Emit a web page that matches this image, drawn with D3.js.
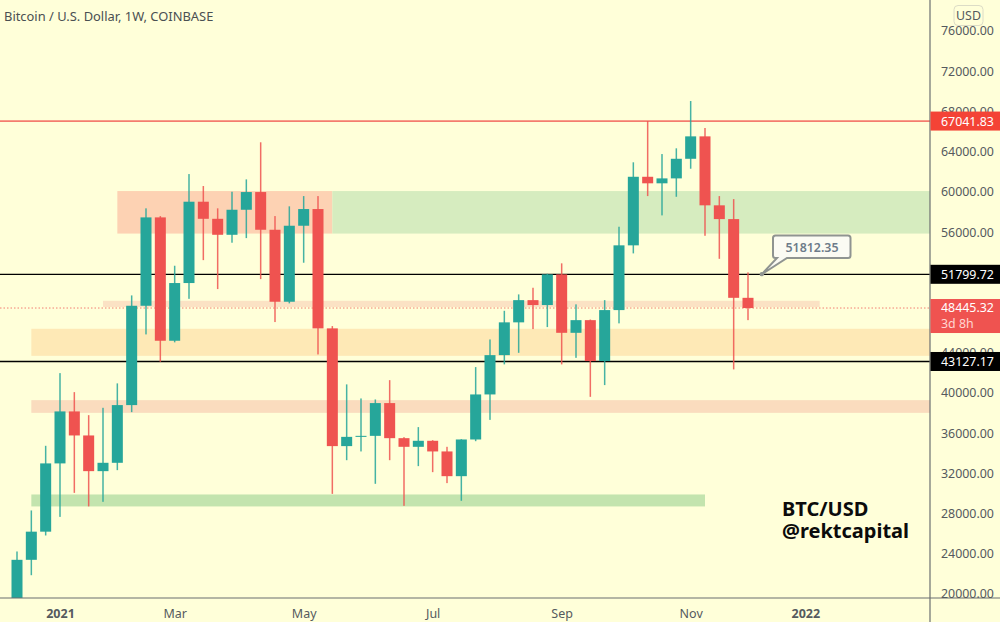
<!DOCTYPE html>
<html>
<head>
<meta charset="utf-8">
<script src="https://cdn.jsdelivr.net/npm/d3@7/dist/d3.min.js"></script>
<style>
  html, body { margin: 0; padding: 0; background: #ffffd9; overflow: hidden; }
  text { font-family: "Noto Sans", sans-serif; }
</style>
</head>
<body>
<svg id="chart" width="1000" height="622"></svg>
<script>
var firstWeek = new Date(Date.UTC(2020, 11, 14));

var opens  = [19300,23400,26200,32990,38160,35770,32220,33050,38790,48670,57460,45190,50930,59020,57320,55730,58220,59980,56230,49070,56630,58290,46420,34710,35630,35730,38990,35500,34640,35240,34180,31720,35370,39850,43760,47020,49230,48740,51790,45980,47240,43170,48240,54680,61500,60850,61340,63290,65520,58660,57290,49460];
var highs  = [24230,28310,34740,41970,40080,37790,38520,40950,49700,58360,57590,52650,61770,60580,58360,60010,61240,64930,57590,58560,59580,59580,46650,40850,39450,39350,41270,35600,36600,35300,34640,35400,42570,45320,48170,49800,50460,51850,52890,48810,47300,49230,56530,62940,67045,63760,64330,69035,66350,59580,59280,51990];
var lows   = [18800,21870,25820,27670,30060,28710,29170,32320,38090,45820,43100,45030,49360,53210,50330,54940,55400,51320,47050,48910,52950,43830,29960,33310,34180,30960,33310,28770,32720,32120,31030,29270,35200,37320,42840,43990,46350,46550,42840,43490,39610,40780,46920,53880,59580,57660,59510,62300,55630,53340,42340,47240];
var closes = [23400,26200,32990,38160,35770,32220,33050,38790,48670,57460,45190,50930,59020,57320,55730,58220,59980,56230,49070,56630,58290,46420,34710,35630,35730,38990,35500,34640,35240,34180,31720,35370,39850,43760,47020,49230,48740,51790,45980,47240,43170,48240,54680,61500,60850,61340,63290,65520,58660,57290,49460,48445.32];

var priceTicks = [76000,72000,68000,64000,60000,56000,44000,40000,36000,32000,28000,24000,20000];
var monthTicks = [3,11,20,29,38,47,55];
var monthLabels = ['2021','Mar','May','Jul','Sep','Nov','2022'];
var boldLabels = ['2021','2022'];

// price bands: from week, to week, top price, bottom price
var bandFrom = [7,  22, 6,  1,  1,  1];
var bandTo   = [22, 65, 56, 65, 65, 48];
var bandTop  = [60080,60080,49165,46380,39280,29900];
var bandBot  = [55850,55850,48540,43690,38020,28710];
var bandFill = ['#fdd2b3','#d6ecbf','#fbe2c4','#fee9b6','#fadcbe','#c3e4ae'];

var levels = [67041.83,51799.72,43127.17];
var levelColor = ['#f47c6e','#000000','#000000'];
var lastPrice = 48445.32;
var noteAnchor = 51812.35;

var bull = '#26a69a', bear = '#ef5350', axisText = '#555a5e';

var week = function (i) { return d3.utcMonday.offset(firstWeek, i); };
var svg = d3.select('#chart');
var plotRight = 930, plotBottom = 598;

var x = d3.scaleUtc().domain([week(0), week(51)]).range([17, 748]);
var y = d3.scaleLinear().domain([76000, 20000]).range([31, 594]);

svg.append('clipPath').attr('id', 'plot').append('rect')
    .attr('width', plotRight).attr('height', plotBottom);
var plot = svg.append('g').attr('clip-path', 'url(#plot)');

// zones
plot.selectAll('rect.band').data(bandFrom).enter().append('rect')
    .attr('class', 'band')
    .attr('x', function (d) { return x(week(d)); })
    .attr('width', function (d, i) { return x(week(bandTo[i])) - x(week(d)); })
    .attr('y', function (d, i) { return y(bandTop[i]); })
    .attr('height', function (d, i) { return y(bandBot[i]) - y(bandTop[i]); })
    .attr('fill', function (d, i) { return bandFill[i]; });

// horizontal levels
plot.selectAll('line.level').data(levels).enter().append('line')
    .attr('class', 'level')
    .attr('x1', 0).attr('x2', plotRight)
    .attr('y1', y).attr('y2', y)
    .attr('stroke', function (d, i) { return levelColor[i]; })
    .attr('stroke-width', function (d, i) { return i ? 1.3 : 1.7; });

plot.append('line')
    .attr('x1', 0).attr('x2', plotRight)
    .attr('y1', y(lastPrice)).attr('y2', y(lastPrice))
    .attr('stroke', bear).attr('stroke-opacity', 0.75)
    .attr('stroke-dasharray', '1.5 2');

// candles
var candle = plot.selectAll('g.candle').data(opens).enter().append('g')
    .attr('class', 'candle')
    .attr('fill', function (d, i) { return closes[i] >= d ? bull : bear; })
    .attr('stroke', 'none');

candle.append('rect')
    .attr('x', function (d, i) { return x(week(i)) - 0.75; })
    .attr('width', 1.5)
    .attr('y', function (d, i) { return y(highs[i]); })
    .attr('height', function (d, i) { return y(lows[i]) - y(highs[i]); })
    .attr('opacity', 0.85);

candle.append('rect')
    .attr('x', function (d, i) { return x(week(i)) - 5.5; })
    .attr('width', 11)
    .attr('y', function (d, i) { return y(Math.max(d, closes[i])); })
    .attr('height', function (d, i) { return Math.max(1, Math.abs(y(d) - y(closes[i]))); });

// axes
svg.append('line').attr('x1', 0).attr('x2', 1000).attr('y1', plotBottom).attr('y2', plotBottom)
    .attr('stroke', '#6b6f70').attr('stroke-width', 1.2);
svg.append('line').attr('x1', plotRight).attr('x2', plotRight).attr('y1', 0).attr('y2', 622)
    .attr('stroke', '#6b6f70').attr('stroke-width', 1.2);

var xAxis = svg.append('g')
    .attr('transform', 'translate(0,' + (plotBottom + 8) + ')')
    .call(d3.axisBottom(x)
      .tickValues(monthTicks.map(week))
      .tickSize(0)
      .tickFormat(function (d, i) { return monthLabels[i]; }));
xAxis.select('.domain').remove();
xAxis.selectAll('text')
    .attr('fill', axisText)
    .attr('font-family', '"Noto Sans", sans-serif')
    .attr('font-size', 12.5)
    .attr('font-weight', function (d, i) { return boldLabels.indexOf(monthLabels[i]) >= 0 ? 'bold' : 'normal'; });

svg.append('clipPath').attr('id', 'scale').append('rect')
    .attr('x', plotRight + 1).attr('width', 70).attr('height', plotBottom);
var yAxis = svg.append('g')
    .attr('clip-path', 'url(#scale)')
    .append('g')
    .attr('transform', 'translate(941,0)')
    .call(d3.axisRight(y).tickValues(priceTicks).tickSize(0).tickPadding(0).tickFormat(d3.format('.2f')));
yAxis.select('.domain').remove();
yAxis.selectAll('text')
    .attr('fill', axisText)
    .attr('font-family', '"Noto Sans", sans-serif')
    .attr('font-size', 12.4);

// price tags
var tagPrices = [67041.83,51799.72,43127.17];
var tagFill = ['#f44336','#000000','#000000'];
svg.selectAll('rect.tag').data(tagPrices).enter().append('rect')
    .attr('class', 'tag')
    .attr('x', plotRight + 0.5).attr('width', 70)
    .attr('y', function (d) { return y(d) - 9.5; })
    .attr('height', 19)
    .attr('fill', function (d, i) { return tagFill[i]; });
svg.selectAll('text.tag').data(tagPrices).enter().append('text')
    .attr('class', 'tag')
    .attr('x', 941).attr('y', y).attr('dy', '.36em')
    .attr('fill', '#ffffff').attr('font-size', 12.4)
    .text(d3.format('.2f'));

svg.append('rect')
    .attr('x', plotRight + 0.5).attr('width', 70)
    .attr('y', y(lastPrice) - 9).attr('height', 34)
    .attr('fill', bear);
svg.append('text')
    .attr('x', 941).attr('y', y(lastPrice)).attr('dy', '.36em')
    .attr('fill', '#ffffff').attr('font-size', 12.4)
    .text(d3.format('.2f')(lastPrice));
svg.append('text')
    .attr('x', 941).attr('y', y(lastPrice) + 16).attr('dy', '.36em')
    .attr('fill', '#ffd6d2').attr('font-size', 12.4)
    .text('3d 8h');

// USD button
svg.append('rect')
    .attr('x', 954).attr('y', 5.5).attr('width', 29).attr('height', 20).attr('rx', 4)
    .attr('fill', 'none').attr('stroke', '#dcdcc6');
svg.append('text')
    .attr('x', 968.5).attr('y', 19.5).attr('text-anchor', 'middle')
    .attr('fill', axisText).attr('font-size', 12.4).text('USD');

// callout
var noteX = x(week(52)) - 0.5, noteY = y(noteAnchor);
var boxPath = d3.path();
boxPath.moveTo(773, 238);
boxPath.arcTo(773, 235.5, 775.5, 235.5, 2.5);
boxPath.lineTo(848, 235.5);
boxPath.arcTo(850.5, 235.5, 850.5, 238, 2.5);
boxPath.lineTo(850.5, 255.5);
boxPath.arcTo(850.5, 258, 848, 258, 2.5);
boxPath.lineTo(787, 258);
boxPath.lineTo(noteX, noteY);
boxPath.lineTo(777, 258);
boxPath.lineTo(775.5, 258);
boxPath.arcTo(773, 258, 773, 255.5, 2.5);
boxPath.closePath();
svg.append('path')
    .attr('d', boxPath.toString())
    .attr('fill', '#fbfbf3').attr('stroke', '#8f9491').attr('stroke-width', 2);
svg.append('circle')
    .attr('cx', noteX).attr('cy', noteY).attr('r', 2.2).attr('fill', '#8f9491');
svg.append('text')
    .attr('x', 812).attr('y', 251.5).attr('text-anchor', 'middle')
    .attr('fill', '#6d7b8a').attr('font-size', 12.4).attr('font-weight', 600)
    .text(d3.format('.2f')(noteAnchor));

// titles
svg.append('text')
    .attr('x', 4).attr('y', 21)
    .attr('fill', '#4a4f52').attr('font-size', 12.9)
    .text('Bitcoin / U.S. Dollar, 1W, COINBASE');
svg.append('text')
    .attr('x', 782).attr('y', 516)
    .attr('fill', '#0b0b0b').attr('font-size', 20).attr('font-weight', 'bold')
    .text('BTC/USD');
svg.append('text')
    .attr('x', 782).attr('y', 538)
    .attr('fill', '#0b0b0b').attr('font-size', 20).attr('font-weight', 'bold')
    .text('@rektcapital');
</script>
</body>
</html>
